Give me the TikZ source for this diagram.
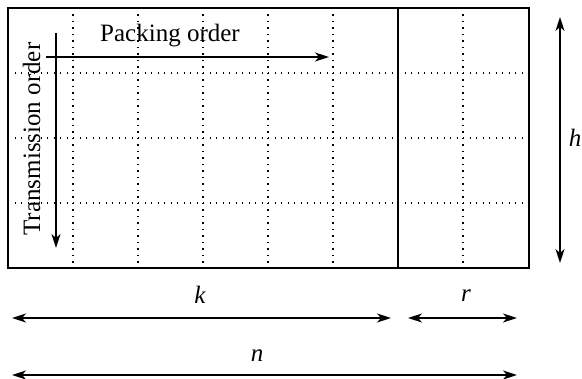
\documentclass[tikz,border=0pt]{standalone}
\usepackage{fontspec}
\setmainfont{Liberation Serif}
\usetikzlibrary{arrows.meta}
\begin{document}
\begin{tikzpicture}[x=1pt,y=-1pt,
  frame/.style={line width=1.1pt},
  gridline/.style={line width=1.1pt, dash pattern=on 1.3pt off 5.2pt},
  tipstyle/.style={},
  arr/.style={line width=1.4pt, -{Stealth[length=14pt,width=9pt,inset=4pt]}},
  darr/.style={line width=1.4pt, {Stealth[length=14pt,width=9pt,inset=4pt]}-{Stealth[length=14pt,width=9pt,inset=4pt]}},
  lbl/.style={font=\fontsize{25}{30}\selectfont, inner sep=0pt}
]
\useasboundingbox (0,0) rectangle (582,379);
% grid
\foreach \x in {73,138,203,268,333,463} \draw[gridline] (\x,8) -- (\x,268);
\foreach \y in {73,138,203} \draw[gridline] (8,\y) -- (529,\y);
\draw[frame] (8,8) rectangle (529,268);
\draw[frame] (398,8) -- (398,268);
% order arrows
\coordinate (pa) at (46,57);
\coordinate (pb) at (329,57);
\coordinate (ta) at (56,33);
\coordinate (tb) at (56,248);
\draw[arr] (pa) -- (pb);
\draw[arr] (ta) -- (tb);
\node[lbl, anchor=base] (pack) at (170,41.5) {Packing order};
\node[lbl, anchor=base, rotate=90] (trans) at (40,139) {Transmission order};
% dimension arrows
\coordinate (h0) at (560,17);
\coordinate (h1) at (560,263);
\draw[darr] (h0) -- (h1);
\node[lbl, font=\fontsize{25}{30}\selectfont\itshape] (h) at (575,138) {h};
\coordinate (k0) at (12,318);
\coordinate (k1) at (391,318);
\draw[darr] (k0) -- (k1);
\node[lbl, font=\fontsize{25}{30}\selectfont\itshape] (k) at (200,295) {k};
\coordinate (r0) at (408,318);
\coordinate (r1) at (517,318);
\draw[darr] (r0) -- (r1);
\node[lbl, font=\fontsize{25}{30}\selectfont\itshape] (r) at (466,296) {r};
\coordinate (n0) at (12,375);
\coordinate (n1) at (517,375);
\draw[darr] (n0) -- (n1);
\node[lbl, font=\fontsize{25}{30}\selectfont\itshape] (n) at (257,356) {n};
\end{tikzpicture}
\end{document}
